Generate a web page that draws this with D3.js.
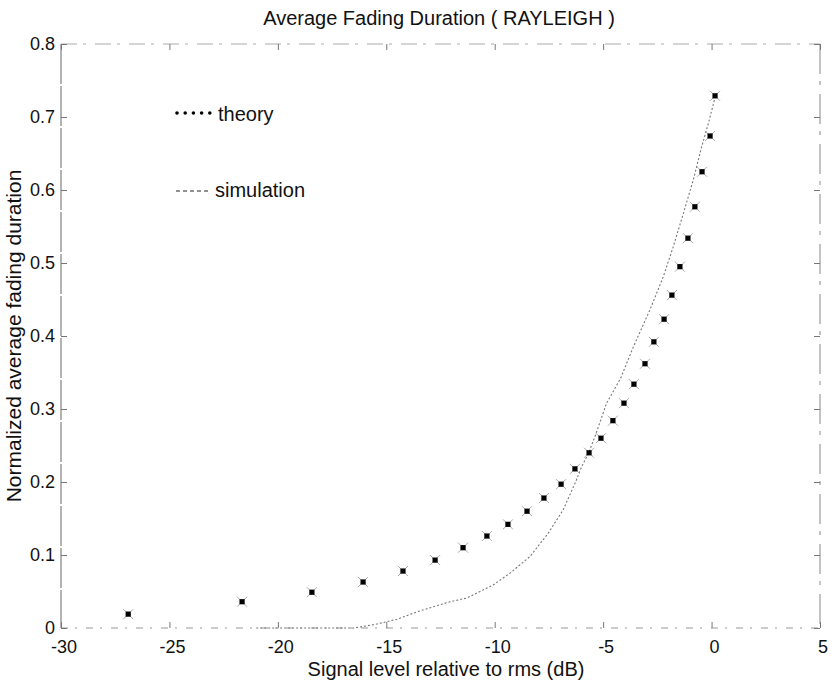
<!DOCTYPE html>
<html>
<head>
<meta charset="utf-8">
<script src="https://cdn.jsdelivr.net/npm/d3@7"></script>
<style>
  body { margin: 0; background: #fff; }
  text { font-family: "Liberation Sans", Arial, sans-serif; fill: #111; }
</style>
</head>
<body>
<div class="chart"></div>
<script>
// values
var theoryX = [-26.9, -21.65, -18.43, -16.07, -14.23, -12.75, -11.46, -10.36, -9.39, -8.51,
               -7.73, -6.94, -6.30, -5.65, -5.10, -4.55, -4.04, -3.58, -3.07, -2.66,
               -2.19, -1.83, -1.46, -1.09, -0.77, -0.44, -0.07, 0.16];
var theoryY = [0.019, 0.036, 0.049, 0.063, 0.078, 0.093, 0.110, 0.126, 0.142, 0.160,
               0.178, 0.197, 0.218, 0.240, 0.260, 0.284, 0.308, 0.334, 0.362, 0.392,
               0.423, 0.456, 0.495, 0.534, 0.577, 0.625, 0.674, 0.729];

var simX = [-21.0, -16.5, -15.5, -14.5, -13.5, -12.06, -11.29, -10.07, -9.3, -8.37,
            -7.53, -6.84, -6.30, -5.99, -5.68, -5.38, -4.84, -4.18, -3.61, -2.84,
            -2.23, -1.77, -1.30, -0.84, -0.46, -0.15, 0.19];
var simY = [0.0, 0.0, 0.005, 0.012, 0.023, 0.036, 0.041, 0.059, 0.075, 0.098,
            0.130, 0.162, 0.198, 0.221, 0.239, 0.262, 0.308, 0.343, 0.385, 0.436,
            0.481, 0.522, 0.568, 0.614, 0.659, 0.691, 0.730];

var xTicks = [-30, -25, -20, -15, -10, -5, 0, 5];
var yTicks = [0, 0.1, 0.2, 0.3, 0.4, 0.5, 0.6, 0.7, 0.8];
var yTickLabels = ["0", "0.1", "0.2", "0.3", "0.4", "0.5", "0.6", "0.7", "0.8"];

var width = 832, height = 684;
var plotLeft = 61, plotRight = 820, plotTop = 44, plotBottom = 628;

var svg = d3.select(".chart").append("svg").attr("width", width).attr("height", height);

var x = d3.scaleLinear().domain([-30, 5]).range([plotLeft, plotRight]);
var y = d3.scaleLinear().domain([0, 0.8]).range([plotBottom, plotTop]);

// frame (scan makes it look faint and broken)
function frameLine(x1, y1, x2, y2, dash, color) {
    svg.append("line").attr("x1", x1).attr("y1", y1).attr("x2", x2).attr("y2", y2)
        .attr("stroke", color).attr("stroke-width", 1).attr("stroke-dasharray", dash);
}
frameLine(plotLeft, plotTop, plotRight, plotTop, "16,6,3,9", "#aaa");
frameLine(plotLeft, plotBottom, plotRight, plotBottom, "7,7,2,9", "#999");
frameLine(plotLeft, plotTop, plotLeft, plotBottom, "40,2", "#666");
frameLine(plotRight, plotTop, plotRight, plotBottom, "30,7,4,9", "#888");

// inward ticks via d3 axes, with the domain path removed
var tickLen = 6;
function styleAxis(g) {
    g.select(".domain").remove();
    g.selectAll(".tick line").attr("stroke", "#777");
    g.selectAll(".tick text").remove();
}
svg.append("g").attr("transform", "translate(0," + plotBottom + ")")
    .call(d3.axisTop(x).tickValues(xTicks).tickSize(tickLen)).call(styleAxis);
svg.append("g").attr("transform", "translate(0," + plotTop + ")")
    .call(d3.axisBottom(x).tickValues(xTicks).tickSize(tickLen)).call(styleAxis);
svg.append("g").attr("transform", "translate(" + plotLeft + ",0)")
    .call(d3.axisRight(y).tickValues(yTicks).tickSize(tickLen)).call(styleAxis);
svg.append("g").attr("transform", "translate(" + plotRight + ",0)")
    .call(d3.axisLeft(y).tickValues(yTicks).tickSize(tickLen)).call(styleAxis);

// tick labels
svg.selectAll(".xlab").data(xTicks).enter().append("text")
    .attr("class", "xlab")
    .attr("x", function (d) { return x(d) + 3; })
    .attr("y", plotBottom + 25)
    .attr("text-anchor", "middle")
    .style("font-size", "18px")
    .text(function (d) { return d; });

svg.selectAll(".ylab").data(yTicks).enter().append("text")
    .attr("class", "ylab")
    .attr("x", plotLeft - 6)
    .attr("y", function (d) { return y(d) + 6; })
    .attr("text-anchor", "end")
    .style("font-size", "18px")
    .text(function (d, i) { return yTickLabels[i]; });

// titles
svg.append("text").attr("x", 439).attr("y", 25).attr("text-anchor", "middle")
    .style("font-size", "20px").text("Average Fading Duration ( RAYLEIGH )");
svg.append("text").attr("x", 446).attr("y", 676).attr("text-anchor", "middle")
    .style("font-size", "20px").text("Signal level relative to rms (dB)");
svg.append("text").attr("transform", "translate(21,336) rotate(-90)")
    .attr("text-anchor", "middle")
    .style("font-size", "21px").text("Normalized average fading duration");

// simulation curve
var simData = simX.map(function (d, i) { return [d, simY[i]]; });
svg.append("path").datum(simData)
    .attr("fill", "none")
    .attr("stroke", "#777")
    .attr("stroke-width", 1.1)
    .attr("stroke-dasharray", "2,2")
    .attr("d", d3.line().x(function (d) { return x(d[0]); }).y(function (d) { return y(d[1]); }));

// theory points: black blob with faint cross arms
var pts = svg.append("g");
theoryX.forEach(function (d, i) {
    var px = x(d), py = y(theoryY[i]);
    var a = 5;
    pts.append("path")
        .attr("d", "M" + (px - a) + "," + (py - a) + "L" + (px + a) + "," + (py + a) +
                   "M" + (px - a) + "," + (py + a) + "L" + (px + a) + "," + (py - a))
        .attr("stroke", "#aaa").attr("stroke-width", 1);
    pts.append("rect").attr("x", px - 2.6).attr("y", py - 2.6).attr("width", 5.2).attr("height", 5.2)
        .attr("fill", "#000");
});

// legend
var legDots = [0, 1, 2, 3, 4];
legDots.forEach(function (k) {
    svg.append("circle").attr("cx", 177 + k * 8.2).attr("cy", 113).attr("r", 1.8).attr("fill", "#000");
});
svg.append("text").attr("x", 218).attr("y", 121).style("font-size", "20px").text("theory");
svg.append("line").attr("x1", 176).attr("y1", 191).attr("x2", 208).attr("y2", 191)
    .attr("stroke", "#222").attr("stroke-width", 1).attr("stroke-dasharray", "4,3");
svg.append("text").attr("x", 215).attr("y", 197).style("font-size", "20px").text("simulation");
</script>
</body>
</html>
